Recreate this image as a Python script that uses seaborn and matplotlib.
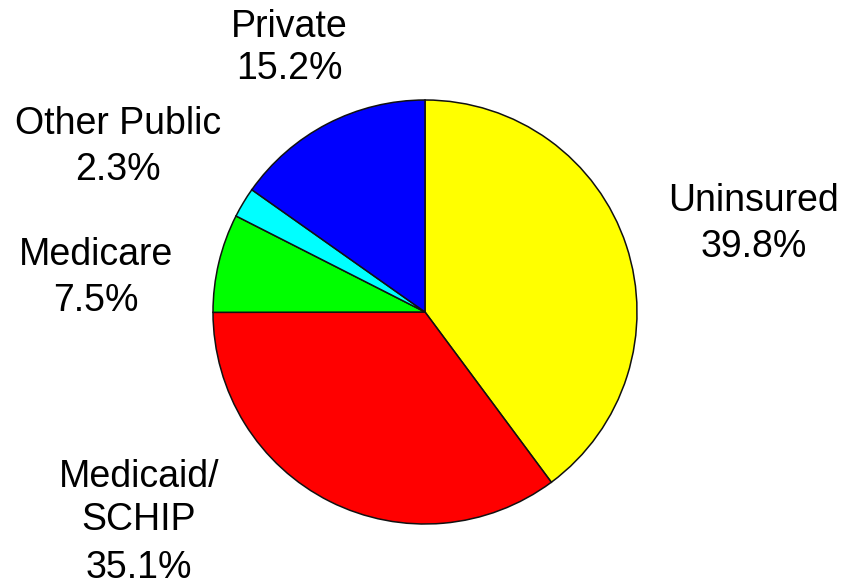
import matplotlib
matplotlib.use("Agg")
import matplotlib.pyplot as plt
import seaborn as sns

# Data
categories = ["Uninsured", "Medicaid/\nSCHIP", "Medicare", "Other Public", "Private"]
values = [39.8, 35.1, 7.5, 2.3, 15.2]
colors = ["#FFFF00", "#FF0000", "#00FF00", "#00FFFF", "#0000FF"]

sns.set_theme(style="white")
plt.rcParams["font.family"] = ["Liberation Sans", "DejaVu Sans"]

W, H = 845, 584
fig = plt.figure(figsize=(W / 100, H / 100), dpi=100)
ax = fig.add_axes([0, 0, 1, 1])
ax.set_xlim(0, W)
ax.set_ylim(0, H)
ax.axis("off")

ax.pie(values, colors=colors, startangle=90, counterclock=False,
       center=(425, H - 312), radius=212,
       wedgeprops=dict(edgecolor="#111111", linewidth=1.1))
ax.set_xlim(0, W)
ax.set_ylim(0, H)
ax.set_aspect("equal")

# Label layout: centre x, baselines (pixels from top) for each text line
layout = {
    "Uninsured": (754, [211, 257]),
    "Medicaid/\nSCHIP": (139, [487, 530, 578]),
    "Medicare": (96, [265, 311]),
    "Other Public": (118, [134, 180]),
    "Private": (289, [37, 79]),
}

fs = 27
for cat, val in zip(categories, values):
    lines = cat.split("\n") + [f"{val:.1f}%"]
    x, baselines = layout[cat]
    for line, b in zip(lines, baselines):
        ax.text(x, H - b, line, ha="center", va="baseline", fontsize=fs, color="black")

fig.savefig("out.png", dpi=100)
